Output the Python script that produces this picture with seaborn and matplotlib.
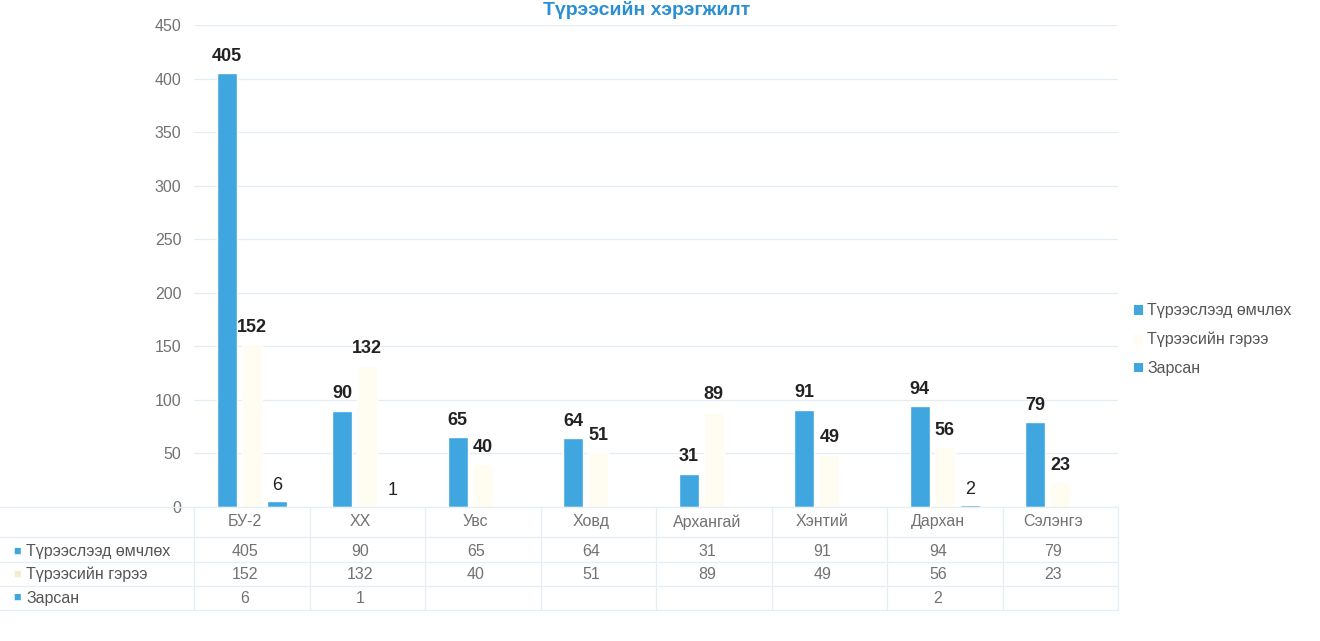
"""
Түрээсийн хэрэгжилт — grouped bar chart with a data table underneath.
Saves out.png (1320x641).
"""

import matplotlib
matplotlib.use("Agg")
import matplotlib.pyplot as plt
import matplotlib.transforms as mtrans
from matplotlib.lines import Line2D
from matplotlib.patches import Patch
import pandas as pd
import seaborn as sns

# ── Data ──────────────────────────────────────────────────────────────────────
categories = ["БУ-2", "ХХ", "Увс", "Ховд", "Архангай", "Хэнтий", "Дархан", "Сэлэнгэ"]
series_names = ["Түрээслээд өмчлөх", "Түрээсийн гэрээ", "Зарсан"]
rent_own = [405, 90, 65, 64, 31, 91, 94, 79]
contracts = [152, 132, 40, 51, 89, 49, 56, 23]
sold = [6, 1, None, None, None, None, 2, None]

title = "Түрээсийн хэрэгжилт"
y_ticks = [0, 50, 100, 150, 200, 250, 300, 350, 400, 450]

# ── Style ─────────────────────────────────────────────────────────────────────
BLUE = "#3fa6df"
PALE = "#fffcf2"
GREY = "#727272"
colors = [BLUE, PALE, BLUE]

sns.set_theme(style="white")
plt.rcParams["font.family"] = ["Liberation Sans", "DejaVu Sans"]

rows = []
for name, vals in zip(series_names, [rent_own, contracts, sold]):
    for cat, v in zip(categories, vals):
        rows.append({"Аймаг": cat, "Цуврал": name, "Тоо": v})
df = pd.DataFrame(rows)

fig = plt.figure(figsize=(13.2, 6.41), dpi=100)
ax = fig.add_axes([0.147, 0.209, 0.700, 0.752])

sns.barplot(data=df, x="Аймаг", y="Тоо", hue="Цуврал", order=categories,
            hue_order=series_names, palette=colors, width=0.65, gap=0.2,
            ax=ax, legend=False, saturation=1)

ax.set_ylim(0, 450)
ax.set_xlim(-0.5, len(categories) - 0.5)
ax.set_yticks(y_ticks)
ax.tick_params(axis="y", labelsize=11.5, labelcolor=GREY, length=0, pad=9)
ax.set_xticks([])
ax.set_xlabel("")
ax.set_ylabel("")
ax.grid(axis="y", color="#e2edf5", linewidth=0.9)
ax.set_axisbelow(True)
for s in ax.spines.values():
    s.set_visible(False)

# ── Data labels ───────────────────────────────────────────────────────────────
for i, cont in enumerate(ax.containers):
    weight = "normal" if i == 2 else "bold"
    for bar in cont:
        if bar is None:
            continue
        h = bar.get_height()
        if h != h:  # NaN
            continue
        ax.annotate(f"{h:.0f}", (bar.get_x() + bar.get_width() / 2, h),
                    xytext=(0, 6 if i < 2 else 5), textcoords="offset points",
                    ha="center", va="bottom", fontsize=13, fontweight=weight,
                    color="#222222")

# ── Legend ────────────────────────────────────────────────────────────────────
handles = [Patch(facecolor=c, edgecolor="none") for c in colors]
leg = fig.legend(handles, series_names, loc="center left",
                 bbox_to_anchor=(0.848, 0.47), frameon=False, fontsize=11.5,
                 handlelength=0.55, handleheight=0.55, handletextpad=0.3,
                 labelspacing=0.85)
for t in leg.get_texts():
    t.set_color("#555555")

# ── Data table ────────────────────────────────────────────────────────────────
tr = mtrans.blended_transform_factory(ax.transData, fig.transFigure)
row_y = [0.186, 0.140, 0.104, 0.067]
line_y = [0.209, 0.163, 0.123, 0.086, 0.048]
line_col = "#e6eef5"

for y in line_y:
    fig.add_artist(Line2D([0.0, 0.847], [y, y], color=line_col, lw=0.9,
                          transform=fig.transFigure))
for k in range(len(categories) + 1):
    ax.add_artist(Line2D([k - 0.5, k - 0.5], [line_y[-1], line_y[0]],
                         color=line_col, lw=0.9, transform=tr, clip_on=False))

for j, cat in enumerate(categories):
    ax.text(j - 0.06, row_y[0], cat, transform=tr, ha="center", va="center",
            fontsize=11.5, color=GREY)
    for r, vals in enumerate([rent_own, contracts, sold]):
        v = vals[j]
        if v is not None:
            ax.text(j - 0.06, row_y[r + 1], str(v), transform=tr, ha="center",
                    va="center", fontsize=11.5, color=GREY)

for r, name in enumerate(series_names):
    fig.text(0.010, row_y[r + 1], "■", color=colors[r] if r != 1 else "#f6ead0",
             fontsize=9, va="center", ha="left")
    fig.text(0.020, row_y[r + 1], name, color="#555555", fontsize=11.5,
             va="center", ha="left")

# ── Title ─────────────────────────────────────────────────────────────────────
fig.text(0.49, 0.999, title, color="#2b8fd3", fontsize=14, fontweight="bold",
         ha="center", va="top")

fig.savefig("out.png", dpi=100)
